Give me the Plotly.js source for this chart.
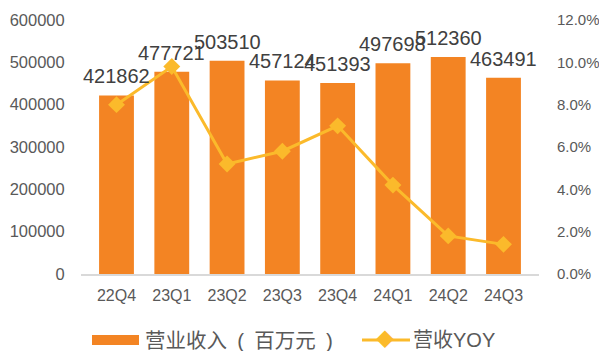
<!DOCTYPE html>
<html><head><meta charset="utf-8">
<script src="https://cdn.plot.ly/plotly-3.0.1.min.js"></script>
<style>body{margin:0;padding:0;background:#fff}#chart{width:599px;height:351px}</style>
</head><body><div id="chart"></div>
<script>
const categories = ['22Q4','23Q1','23Q2','23Q3','23Q4','24Q1','24Q2','24Q3'];
const revenue = [421862, 477721, 503510, 457124, 451393, 497698, 512360, 463491];
const yoy = [0.080, 0.098, 0.052, 0.058, 0.070, 0.042, 0.018, 0.014];
const revenueName = '营业收入\u2002(\u2002百万元\u2002)';
const yoyName = '营收YOY';

const barColor = '#F38423';
const lineColor = '#FBBA2B';
const textColor = '#595959';
const font = 'Arial, "Liberation Sans", "Noto Sans CJK SC", sans-serif';

const L = 81, R = 539, T = 20, B = 274;
const px = v => (v - L) / (R - L);
const py = v => (B - v) / (B - T);

const traces = [
  {type:'bar', x:categories, y:revenue, name:revenueName, marker:{color:barColor},
   width:0.63, hoverinfo:'skip'},
  {type:'scatter', mode:'lines+markers', x:categories, y:yoy, name:yoyName, yaxis:'y2',
   line:{color:lineColor, width:3}, marker:{symbol:'diamond', size:13, color:lineColor},
   cliponaxis:false, hoverinfo:'skip'}
];

const labelAnns = categories.map((c, i) => ({
  x:c, y:revenue[i], xref:'x', yref:'y', text:String(revenue[i]), showarrow:false,
  yanchor:'bottom', yshift:6, font:{size:20, color:'#404040', family:font}
}));

const legY = 340;
const layout = {
  width:599, height:351,
  margin:{l:L, r:599-R, t:T, b:351-B},
  paper_bgcolor:'#fff', plot_bgcolor:'#fff',
  showlegend:false,
  font:{family:font, color:textColor},
  xaxis:{type:'category', showgrid:false, zeroline:false, showline:true, linecolor:'#D9D9D9', linewidth:1.5,
         ticks:'', tickfont:{size:16, color:textColor}, ticklabelstandoff:6},
  yaxis:{range:[0,600000], dtick:100000, showgrid:false, zeroline:false, showline:false,
         tickfont:{size:16.5, color:textColor}, tickformat:'d', ticks:'outside', ticklen:12, tickcolor:'rgba(0,0,0,0)'},
  yaxis2:{range:[0,0.12], dtick:0.02, overlaying:'y', side:'right', showgrid:false, zeroline:false, showline:false,
          tickformat:'.1%', tickfont:{size:15, color:textColor}, ticks:'outside', ticklen:14, tickcolor:'rgba(0,0,0,0)'},
  shapes:[
    {type:'rect', xref:'paper', yref:'paper', x0:px(92), x1:px(139), y0:py(legY+5), y1:py(legY-5),
     fillcolor:barColor, line:{width:0}},
    {type:'line', xref:'paper', yref:'paper', x0:px(362), x1:px(410), y0:py(legY), y1:py(legY),
     line:{color:lineColor, width:3}}
  ],
  annotations: labelAnns.concat([
    {xref:'paper', yref:'paper', x:px(143), y:py(legY), xanchor:'left', yanchor:'middle',
     text:revenueName, showarrow:false, font:{size:20.5, color:textColor}},
    {xref:'paper', yref:'paper', x:px(385), y:py(legY), text:'◆', showarrow:false,
     font:{size:18, color:lineColor}, xanchor:'center', yanchor:'middle'},
    {xref:'paper', yref:'paper', x:px(411), y:py(legY), xanchor:'left', yanchor:'middle',
     text:yoyName, showarrow:false, font:{size:20, color:textColor}}
  ])
};
Plotly.newPlot('chart', traces, layout, {staticPlot:true, displayModeBar:false});
</script></body></html>
